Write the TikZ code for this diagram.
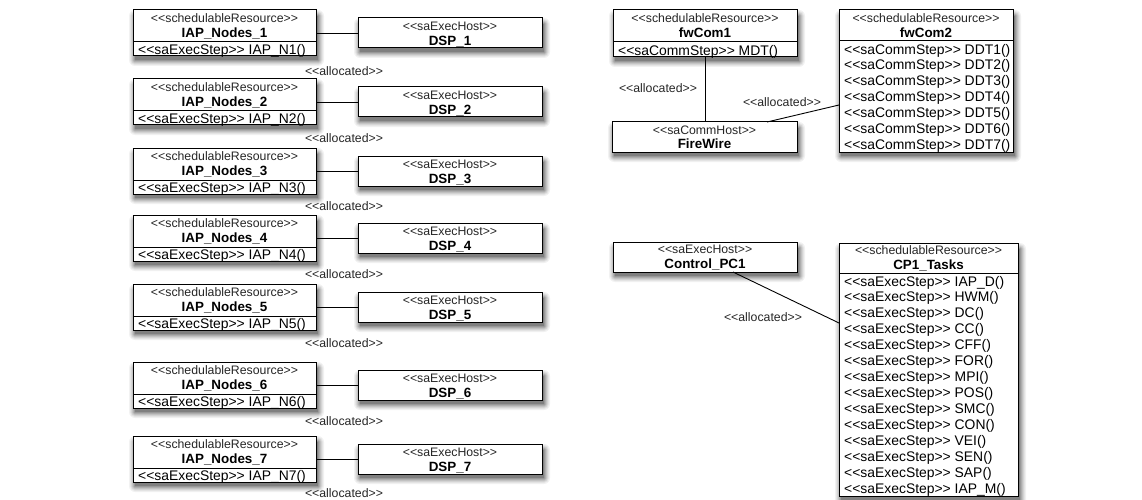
\documentclass[tikz,border=0pt]{standalone}
\usepackage{fontspec}
\setmainfont{Liberation Sans}[Ligatures=TeXOff]

% text sizes used in the class boxes
\newcommand\stereofont{\fontsize{12.3}{14}\selectfont\color{black!85}}
\newcommand\namefont{\fontsize{13.4}{15}\selectfont\bfseries}
\newcommand\opfont{\fontsize{13.9}{16}\selectfont}

\tikzset{
  umlbox/.style={draw, line width=1pt, fill=white, inner sep=0pt, outer sep=0pt,
    anchor=north west},
  stereo/.style={font=\stereofont, inner sep=0pt, anchor=mid, yshift=-2.5pt},
  cname/.style={font=\namefont, inner sep=0pt, anchor=mid, yshift=-2.5pt},
  op/.style={font=\opfont, inner sep=0pt, anchor=mid west, yshift=-2.5pt},
  sep/.style={line width=1pt},
  link/.style={line width=0.9pt},
  alloc/.style={font=\stereofont, inner sep=0pt, anchor=mid, yshift=-2.5pt},
}

% class box: #1 name, #2 left, #3 top, #4 width, #5 height
\newcommand\classbox[5]{%
  \node[umlbox, minimum width=#4pt, minimum height=#5pt] (#1) at (#2,#3) {};
}

% IAP resource with its DSP host, the allocation link and its label
% #1 index, #2 top of the resource box, #3 label height
\newcommand\iappair[3]{%
  \classbox{iap#1}{133}{#2}{183}{46}
  \node[stereo] (iap#1s) at ([yshift=-7pt]iap#1.north) {<<schedulableResource>>};
  \node[cname] (iap#1n) at ([yshift=-22.5pt]iap#1.north) {IAP\_Nodes\_#1};
  \draw[sep] ([yshift=-32pt]iap#1.north west) -- ([yshift=-32pt]iap#1.north east);
  \node[op] (iap#1o) at ([xshift=5pt,yshift=-39.5pt]iap#1.north west) {<<saExecStep>> IAP\_N#1()};
  \classbox{dsp#1}{358}{#2+8}{184}{30}
  \node[stereo] (dsp#1s) at ([yshift=-7.5pt]dsp#1.north) {<<saExecHost>>};
  \node[cname] (dsp#1n) at ([yshift=-22pt]dsp#1.north) {DSP\_#1};
  \draw[link] (iap#1.east) -- (dsp#1.west);
  \node[alloc] (al#1) at (344,#3) {<<allocated>>};
}

\begin{document}
\begin{tikzpicture}[x=1pt, y=-1pt]
\useasboundingbox (0,0) rectangle (1142,500);

% soft grey shadows under every box: nested rectangles, lightest outside
\foreach \bx/\by/\bw/\bh in {133/10/183/46, 133/79/183/46, 133/148/183/46,
    133/215/183/46, 133/284/183/46, 133/362/183/46, 133/436/183/46,
    358/18/184/30, 358/87/184/30, 358/156/184/30, 358/223/184/30,
    358/292/184/30, 358/370/184/30, 358/444/184/30,
    613/10/184/47, 839/10/174/142, 612/122/185/30, 613/242/184/30, 839/243/179/253}
  \foreach \rr/\gg in {6/5,5/10,4/16,3/23,2/31,1/40,0/50}
    \fill[black!\gg, rounded corners=\rr pt]
      ({\bx+2-\rr},{\by+\bh+4+\rr}) rectangle ({\bx+\bw+2+\rr},{\by+6-\rr});

\iappair{1}{10}{70}
\iappair{2}{79}{137}
\iappair{3}{148}{205}
\iappair{4}{215}{273}
\iappair{5}{284}{342}
\iappair{6}{362}{420}
\iappair{7}{436}{492}

% fwCom1
\classbox{fwc1}{613}{10}{184}{47}
\node[stereo] (fwc1s) at ([yshift=-7pt]fwc1.north) {<<schedulableResource>>};
\node[cname] (fwc1n) at ([yshift=-22.5pt]fwc1.north) {fwCom1};
\draw[sep] ([yshift=-32pt]fwc1.north west) -- ([yshift=-32pt]fwc1.north east);
\node[op] (fwc1o) at ([xshift=5pt,yshift=-40pt]fwc1.north west) {<<saCommStep>> MDT()};

% fwCom2
\classbox{fwc2}{839}{10}{174}{142}
\node[stereo] (fwc2s) at ([yshift=-7pt]fwc2.north) {<<schedulableResource>>};
\node[cname] (fwc2n) at ([yshift=-22pt]fwc2.north) {fwCom2};
\draw[sep] ([yshift=-31pt]fwc2.north west) -- ([yshift=-31pt]fwc2.north east);
\foreach \k in {1,...,7}
  \node[op] (fwc2o\k) at ([xshift=5pt,yshift={-31pt-7.9pt-15.86pt*(\k-1)}]fwc2.north west)
    {<<saCommStep>> DDT\k()};

% FireWire
\classbox{fw}{612}{122}{185}{30}
\node[stereo] (fws) at ([yshift=-7.5pt]fw.north) {<<saCommHost>>};
\node[cname] (fwn) at ([yshift=-21.5pt]fw.north) {FireWire};

\draw[link] (fwc1.south) -- (fwc1.south |- fw.north);
\draw[link] ([xshift=62.5pt]fw.north) -- ([yshift=-24pt]fwc2.west);
\node[alloc] (alfw1) at (658,87) {<<allocated>>};
\node[alloc] (alfw2) at (782,101) {<<allocated>>};

% Control_PC1
\classbox{pc}{613}{242}{184}{30}
\node[stereo] (pcs) at ([yshift=-6.5pt]pc.north) {<<saExecHost>>};
\node[cname] (pcn) at ([yshift=-21pt]pc.north) {Control\_PC1};

% CP1_Tasks
\classbox{cp}{839}{243}{179}{253}
\node[stereo] (cps) at ([yshift=-6pt]cp.north) {<<schedulableResource>>};
\node[cname] (cpn) at ([yshift=-21pt]cp.north) {CP1\_Tasks};
\draw[sep] ([yshift=-30pt]cp.north west) -- ([yshift=-30pt]cp.north east);
\foreach \t [count=\k] in {IAP\_D,HWM,DC,CC,CFF,FOR,MPI,POS,SMC,CON,VEI,SEN,SAP,IAP\_M}
  \node[op] (cpo\k) at ([xshift=5pt,yshift={-30pt-7.9pt-15.93pt*(\k-1)}]cp.north west)
    {<<saExecStep>> \t()};

\draw[link] ([xshift=28pt]pc.south) -- ([yshift=46.5pt]cp.west);
\node[alloc] (alpc) at (763,316) {<<allocated>>};
\end{tikzpicture}
\end{document}
